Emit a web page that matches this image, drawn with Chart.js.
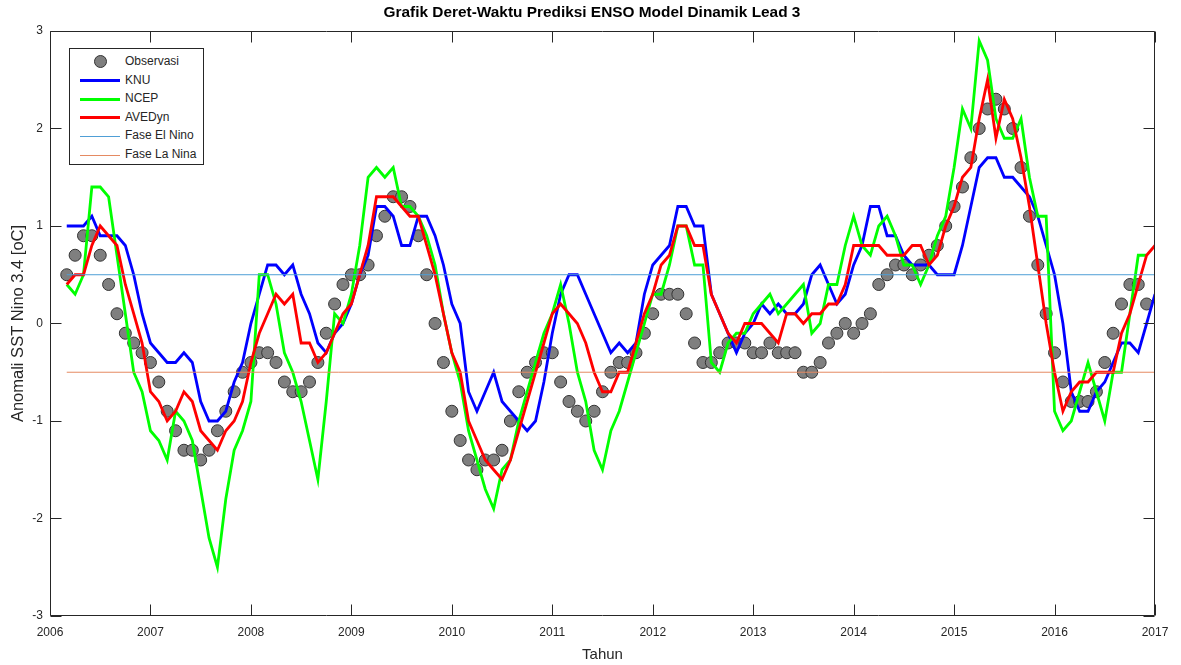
<!DOCTYPE html>
<html>
<head>
<meta charset="utf-8">
<title>Grafik Deret-Waktu Prediksi ENSO Model Dinamik Lead 3</title>
<script src="https://cdn.jsdelivr.net/npm/chart.js@4.4.1/dist/chart.umd.min.js"></script>
<style>
  body { margin: 0; background: #fff; }
  #wadah { position: relative; width: 1181px; height: 665px; }
  #legenda {
    position: absolute; left: 69px; top: 48px; width: 133px; height: 115px;
    border: 1px solid #262626; background: #fff;
    font: 12px "Liberation Sans", Arial, sans-serif; color: #262626;
  }
  .baris { position: absolute; left: 0; width: 133px; height: 19px; }
  .contoh { position: absolute; left: 10px; width: 40px; }
  .teks { position: absolute; left: 55px; top: 2px; white-space: nowrap; }
</style>
</head>
<body>
<div id="wadah">
  <canvas id="grafikEnso" width="1181" height="665"></canvas>
  <div id="legenda"></div>
</div>
<script>
// data bulanan, titik pertama = 2006 + 2/12
const tahunMulai = 2006;
const bulanMulai = 2;

const observasi = [
  0.5, 0.7, 0.9, 0.9, 0.7, 0.4, 0.1, -0.1, -0.2, -0.3,
  -0.4, -0.6, -0.9, -1.1, -1.3, -1.3, -1.4, -1.3, -1.1, -0.9,
  -0.7, -0.5, -0.4, -0.3, -0.3, -0.4, -0.6, -0.7, -0.7, -0.6,
  -0.4, -0.1, 0.2, 0.4, 0.5, 0.5, 0.6, 0.9, 1.1, 1.3,
  1.3, 1.2, 0.9, 0.5, 0.0, -0.4, -0.9, -1.2, -1.4, -1.5,
  -1.4, -1.4, -1.3, -1.0, -0.7, -0.5, -0.4, -0.3, -0.3, -0.6,
  -0.8, -0.9, -1.0, -0.9, -0.7, -0.5, -0.4, -0.4, -0.3, -0.1,
  0.1, 0.3, 0.3, 0.3, 0.1, -0.2, -0.4, -0.4, -0.3, -0.2,
  -0.2, -0.2, -0.3, -0.3, -0.2, -0.3, -0.3, -0.3, -0.5, -0.5,
  -0.4, -0.2, -0.1, 0.0, -0.1, 0.0, 0.1, 0.4, 0.5, 0.6,
  0.6, 0.5, 0.6, 0.7, 0.8, 1.0, 1.2, 1.4, 1.7, 2.0,
  2.2, 2.3, 2.2, 2.0, 1.6, 1.1, 0.6, 0.1, -0.3, -0.6,
  -0.8, -0.8, -0.8, -0.7, -0.4, -0.1, 0.2, 0.4, 0.4, 0.2
];

const knu = [
  1.0, 1.0, 1.0, 1.1, 0.9, 0.9, 0.9, 0.8, 0.5, 0.1,
  -0.2, -0.3, -0.4, -0.4, -0.3, -0.4, -0.8, -1.0, -1.0, -0.9,
  -0.6, -0.4, 0.0, 0.3, 0.6, 0.6, 0.5, 0.6, 0.3, 0.1,
  -0.2, -0.3, -0.1, 0.0, 0.2, 0.5, 0.7, 1.2, 1.2, 1.1,
  0.8, 0.8, 1.1, 1.1, 0.9, 0.6, 0.2, 0.0, -0.7, -0.9,
  -0.7, -0.5, -0.8, -0.9, -1.0, -1.1, -1.0, -0.6, -0.1, 0.3,
  0.5, 0.5, 0.3, 0.1, -0.1, -0.3, -0.2, -0.3, -0.2, 0.3,
  0.6, 0.7, 0.8, 1.2, 1.2, 1.0, 1.0, 0.3, 0.1, -0.1,
  -0.3, -0.1, 0.0, 0.2, 0.1, 0.2, 0.1, 0.1, 0.2, 0.5,
  0.6, 0.4, 0.2, 0.3, 0.6, 0.8, 1.2, 1.2, 0.9, 0.9,
  0.7, 0.6, 0.6, 0.6, 0.5, 0.5, 0.5, 0.8, 1.2, 1.6,
  1.7, 1.7, 1.5, 1.5, 1.4, 1.3, 1.1, 0.8, 0.5, 0.0,
  -0.7, -0.9, -0.9, -0.7, -0.6, -0.4, -0.2, -0.2, -0.3, 0.0,
  0.3
];

const ncep = [
  0.4, 0.3, 0.5, 1.4, 1.4, 1.3, 0.7, 0.1, -0.5, -0.7,
  -1.1, -1.2, -1.4, -0.9, -1.0, -1.2, -1.7, -2.2, -2.5, -1.8,
  -1.3, -1.1, -0.8, 0.5, 0.5, 0.2, -0.3, -0.5, -0.8, -1.2,
  -1.6, -0.8, 0.1, 0.0, 0.3, 0.8, 1.5, 1.6, 1.5, 1.6,
  1.2, 1.2, 1.1, 0.9, 0.6, 0.1, -0.3, -0.6, -1.1, -1.4,
  -1.7, -1.9, -1.5, -1.4, -1.0, -0.7, -0.4, -0.1, 0.1, 0.4,
  0.0, -0.5, -0.8, -1.3, -1.5, -1.1, -0.9, -0.6, -0.3, 0.0,
  0.3, 0.3, 0.6, 1.0, 1.0, 0.6, 0.6, -0.4, -0.5, -0.2,
  -0.1, -0.1, 0.1, 0.2, 0.3, 0.1, 0.2, 0.3, 0.4, -0.1,
  0.0, 0.4, 0.4, 0.8, 1.1, 0.8, 0.7, 1.0, 1.1, 0.9,
  0.6, 0.6, 0.4, 0.6, 0.9, 1.1, 1.6, 2.2, 2.0, 2.9,
  2.7, 2.1, 1.9, 1.9, 2.1, 1.5, 1.1, 1.1, -0.9, -1.1,
  -1.0, -0.7, -0.4, -0.7, -1.0, -0.5, -0.5, 0.1, 0.7, 0.7
];

const avedyn = [
  0.4, 0.5, 0.5, 0.8, 1.0, 0.9, 0.8, 0.4, 0.1, -0.2,
  -0.7, -0.8, -1.0, -0.9, -0.7, -0.8, -1.1, -1.2, -1.3, -1.1,
  -1.0, -0.8, -0.4, -0.1, 0.1, 0.3, 0.2, 0.3, -0.2, -0.2,
  -0.4, -0.3, -0.1, 0.1, 0.2, 0.5, 0.8, 1.3, 1.3, 1.3,
  1.2, 1.1, 1.1, 0.8, 0.5, 0.1, -0.3, -0.5, -1.0, -1.2,
  -1.4, -1.5, -1.6, -1.4, -1.1, -0.8, -0.5, -0.2, 0.1, 0.2,
  0.1, 0.0, -0.2, -0.5, -0.7, -0.7, -0.5, -0.5, -0.2, 0.1,
  0.3, 0.6, 0.7, 1.0, 1.0, 0.8, 0.8, 0.3, 0.1, -0.1,
  -0.2, 0.0, 0.0, 0.0, -0.1, -0.2, 0.1, 0.1, 0.0, 0.1,
  0.1, 0.2, 0.2, 0.4, 0.8, 0.8, 0.8, 0.8, 0.7, 0.7,
  0.7, 0.8, 0.8, 0.6, 0.7, 1.0, 1.2, 1.5, 1.6, 2.1,
  2.5, 1.9, 2.3, 2.1, 1.7, 1.2, 0.6, 0.0, -0.5, -0.9,
  -0.7, -0.6, -0.6, -0.5, -0.5, -0.5, -0.1, 0.1, 0.4, 0.7,
  0.8
];

const batasElNino = 0.5;
const batasLaNina = -0.5;
const akhirGaris = 2017;

const tickTahun = [2006, 2007, 2008, 2009, 2010, 2011, 2012, 2013, 2014, 2015, 2016, 2017];
const tickAnomali = [-3, -2, -1, 0, 1, 2, 3];

function keTitik(nilai) {
  return nilai.map((v, i) => ({ x: tahunMulai + (bulanMulai + i) / 12, y: v }));
}

function garisBatas(nilai) {
  return [
    { x: tahunMulai + bulanMulai / 12, y: nilai },
    { x: akhirGaris, y: nilai }
  ];
}

const warnaSumbu = '#262626';
const fontDasar = '"Liberation Sans", Arial, Helvetica, sans-serif';

// kotak sumbu dan tick ke dalam, gaya matlab
const kotakMatlab = {
  id: 'kotakMatlab',
  afterDatasetsDraw(chart) {
    const ctx = chart.ctx;
    const a = chart.chartArea;
    const sx = chart.scales.x;
    const sy = chart.scales.y;
    const L = Math.round(a.left) + 0.5;
    const R = Math.round(a.right) - 0.5;
    const T = Math.round(a.top) + 0.5;
    const B = Math.round(a.bottom) - 0.5;
    const panjang = 11;
    ctx.save();
    ctx.strokeStyle = warnaSumbu;
    ctx.lineWidth = 1;
    ctx.beginPath();
    ctx.rect(L, T, R - L, B - T);
    sx.ticks.forEach(t => {
      const px = Math.round(sx.getPixelForValue(t.value)) + 0.5;
      ctx.moveTo(px, B); ctx.lineTo(px, B - panjang);
      ctx.moveTo(px, T); ctx.lineTo(px, T + panjang);
    });
    sy.ticks.forEach(t => {
      const py = Math.round(sy.getPixelForValue(t.value)) + 0.5;
      ctx.moveTo(L, py); ctx.lineTo(L + panjang, py);
      ctx.moveTo(R, py); ctx.lineTo(R - panjang, py);
    });
    ctx.stroke();
    ctx.restore();
  }
};

const dataset = [
  {
    label: 'Observasi',
    data: keTitik(observasi),
    showLine: false,
    pointRadius: 6,
    pointBackgroundColor: '#7f7f7f',
    pointBorderColor: '#333333',
    pointBorderWidth: 1,
    order: 6
  },
  {
    label: 'KNU',
    data: keTitik(knu),
    borderColor: '#0000ff',
    borderWidth: 2.8,
    pointRadius: 0,
    order: 5
  },
  {
    label: 'NCEP',
    data: keTitik(ncep),
    borderColor: '#00ff00',
    borderWidth: 2.8,
    pointRadius: 0,
    order: 4
  },
  {
    label: 'AVEDyn',
    data: keTitik(avedyn),
    borderColor: '#ff0000',
    borderWidth: 2.8,
    pointRadius: 0,
    order: 3
  },
  {
    label: 'Fase El Nino',
    data: garisBatas(batasElNino),
    borderColor: '#4f9fd6',
    borderWidth: 1,
    pointRadius: 0,
    order: 2
  },
  {
    label: 'Fase La Nina',
    data: garisBatas(batasLaNina),
    borderColor: '#e58a62',
    borderWidth: 1,
    pointRadius: 0,
    order: 1
  }
];

Chart.defaults.font.family = fontDasar;
Chart.defaults.color = warnaSumbu;

const ctx = document.getElementById('grafikEnso').getContext('2d');
const grafik = new Chart(ctx, {
  type: 'line',
  data: { datasets: dataset },
  options: {
    responsive: false,
    devicePixelRatio: 1,
    animation: false,
    // padding kiri 29 supaya judul tepat di tengah kanvas
    layout: { padding: { top: 0, right: 26, bottom: 0, left: 29 } },
    plugins: {
      legend: { display: false },
      tooltip: { enabled: false },
      title: {
        display: true,
        text: 'Grafik Deret-Waktu Prediksi ENSO Model Dinamik Lead 3',
        color: '#000000',
        font: { size: 15.4, weight: 'bold' },
        padding: { top: 4, bottom: 8.5 }
      }
    },
    scales: {
      x: {
        type: 'linear',
        min: 2006,
        max: 2017,
        grid: { display: false, drawTicks: false },
        border: { display: false },
        afterBuildTicks: s => { s.ticks = tickTahun.map(v => ({ value: v })); },
        afterFit: s => { s.height = 49; },
        ticks: {
          padding: 9,
          maxRotation: 0,
          font: { size: 12 },
          color: warnaSumbu,
          callback: v => String(v)
        },
        title: {
          display: true,
          text: 'Tahun',
          font: { size: 15 },
          color: warnaSumbu,
          padding: { top: 0, bottom: 1 }
        }
      },
      y: {
        type: 'linear',
        min: -3,
        max: 3,
        grid: { display: false, drawTicks: false },
        border: { display: false },
        afterBuildTicks: s => { s.ticks = tickAnomali.map(v => ({ value: v })); },
        afterFit: s => { s.width = 21; },
        ticks: {
          padding: 7,
          font: { size: 12 },
          color: warnaSumbu,
          callback: v => String(v)
        },
        title: {
          display: true,
          text: 'Anomali SST Nino 3.4 [oC]',
          font: { size: 16.5 },
          color: warnaSumbu,
          padding: { top: -20.9, bottom: 0 }
        }
      }
    }
  },
  plugins: [kotakMatlab]
});

// legenda di dalam area plot
function buatLegenda(chart) {
  const kotak = document.getElementById('legenda');
  chart.data.datasets.forEach((d, i) => {
    const baris = document.createElement('div');
    baris.className = 'baris';
    baris.style.top = (3 + i * 18.6) + 'px';
    const contoh = document.createElement('div');
    contoh.className = 'contoh';
    if (d.showLine === false) {
      contoh.style.left = '24px';
      contoh.style.top = '3px';
      contoh.style.width = '11px';
      contoh.style.height = '11px';
      contoh.style.borderRadius = '50%';
      contoh.style.background = d.pointBackgroundColor;
      contoh.style.border = '1px solid ' + d.pointBorderColor;
    } else {
      const tebal = Math.max(1, Math.round(d.borderWidth));
      contoh.style.top = (10 - tebal / 2) + 'px';
      contoh.style.height = tebal + 'px';
      contoh.style.background = d.borderColor;
    }
    const teks = document.createElement('span');
    teks.className = 'teks';
    teks.textContent = d.label;
    baris.appendChild(contoh);
    baris.appendChild(teks);
    kotak.appendChild(baris);
  });
}
buatLegenda(grafik);
</script>
</body>
</html>
